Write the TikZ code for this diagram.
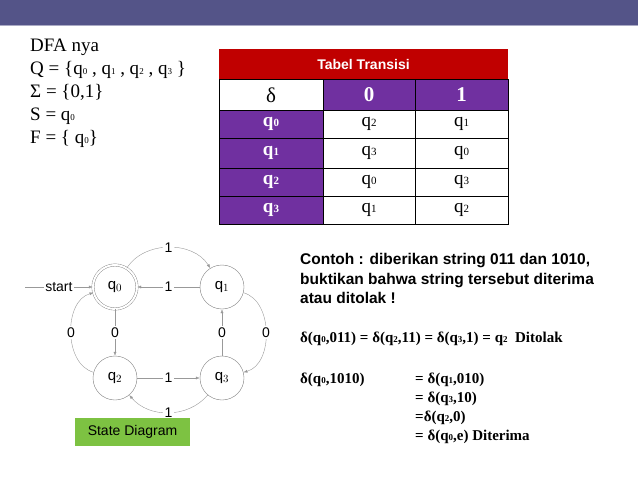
\documentclass[tikz,border=0pt]{standalone}
\usepackage{fontspec}
\setmainfont{Liberation Serif}
\setsansfont{Liberation Sans}
\usetikzlibrary{arrows.meta}
\definecolor{barblue}{HTML}{545488}
\definecolor{tabred}{HTML}{C00000}
\definecolor{tabpurple}{HTML}{7030A0}
\definecolor{boxgreen}{HTML}{7DC242}
\newcommand{\qs}[1]{q{\fontsize{9}{9}\selectfont #1}}
\newcommand{\qt}[1]{q{\fontsize{11}{11}\selectfont #1}}
\begin{document}
\begin{tikzpicture}[x=1pt,y=-1pt,>={Latex[length=4pt,width=3pt]},
  state/.style={circle,draw=gray,minimum size=44pt,inner sep=0pt,font=\sffamily\fontsize{15}{15}\selectfont},
  edge/.style={->,draw=gray!80,thin},
  elab/.style={fill=white,inner sep=1.5pt,font=\sffamily\fontsize{14}{14}\selectfont},
  cell/.style={draw=black,line width=0.6pt},
  hdtext/.style={text=white,font=\bfseries\fontsize{21}{21}\selectfont},
  eqtext/.style={anchor=base west,inner sep=0pt,font=\bfseries\fontsize{15}{15}\selectfont}]
\useasboundingbox (0,0) rectangle (638,479);

% Title bar
\fill [barblue] (0,0) rectangle (638,25);
\fill [barblue!50] (0,25) rectangle (638,26);

% DFA definition
\foreach \y/\txt in {51/{DFA nya},74/{Q = \{\qs0 , \qs1 , \qs2 , \qs3 \}},
  97/{Σ = \{0,1\}},120/{S = \qs0},143/{F = \{ \qs0\}}} {
  \node [anchor=base west,inner sep=0pt,font=\fontsize{19}{19}\selectfont] at (30,\y) {\txt};
}

% Transition table
\fill [tabred] (219,49) rectangle (508,79);
\node [text=white,font=\sffamily\bfseries\fontsize{14}{14}\selectfont] (title) at (363.5,64) {Tabel Transisi};
\fill [tabpurple] (323,79) rectangle (508,110);
\fill [tabpurple] (219,110) rectangle (323,224);
\foreach \ya/\yb in {79/110,110/138,138/168,168/196,196/224} {
  \draw [cell] (219,\ya) rectangle (323,\yb);
  \draw [cell] (323,\ya) rectangle (415,\yb);
  \draw [cell] (415,\ya) rectangle (508,\yb);
}
\node [font=\fontsize{21}{21}\selectfont] (delta) at (271,95) {δ};
\node [hdtext] (h0) at (369,95) {0};
\node [hdtext] (h1) at (461.5,95) {1};
\foreach \y/\s/\a/\b in {124/0/2/1,153/1/3/0,182/2/0/3,210/3/1/2} {
  \node [text=white,font=\bfseries\fontsize{19}{19}\selectfont] at (271,\y) {\qt\s};
  \node [font=\fontsize{19}{19}\selectfont] at (369,\y) {\qt\a};
  \node [font=\fontsize{19}{19}\selectfont] at (461.5,\y) {\qt\b};
}

% State diagram
\node [state,double,double distance=2pt] (q0) at (115,287) {q$_0$};
\node [state] (q1) at (222,287) {q$_1$};
\node [state] (q2) at (115,378) {q$_2$};
\node [state] (q3) at (222,378) {q$_3$};
\coordinate (s) at (25,287);
\draw [edge] (s) -- node [elab] {start} (q0);
\draw [edge] (q0) to [bend left=58] node [elab] {1} (q1);
\draw [edge] (q1) -- node [elab] {1} (q0);
\draw [edge] (q0) -- node [elab] {0} (q2);
\draw [edge] (q3) -- node [elab] {0} (q1);
\draw [edge] (q2) -- node [elab] {1} (q3);
\draw [edge] (q3) to [bend left=50] node [elab] {1} (q2);
\draw [edge] (q2) to [bend left=75] node [elab] {0} (q0);
\draw [edge] (q1) to [bend left=75] node [elab] {0} (q3);
\node [fill=boxgreen,minimum width=115pt,minimum height=28pt,inner sep=0pt,
  font=\sffamily\fontsize{14}{14}\selectfont] (cap) at (132.5,432) {State Diagram};

% Example text
\foreach \y/\txt in {264/{Contoh : diberikan string 011 dan 1010,},284/{buktikan bahwa string tersebut diterima},303/{atau ditolak !}} {
  \node [anchor=base west,inner sep=0pt,font=\sffamily\bfseries\fontsize{15.5}{15.5}\selectfont] at (300,\y) {\txt};
}
\node [eqtext] (e1) at (300,342) {δ(\qs0,011) = δ(\qs2,11) = δ(\qs3,1) = \qs2\ \ Ditolak};
\node [eqtext] (e2) at (300,383) {δ(\qs0,1010)};
\foreach \y/\txt in {383/{= δ(\qs1,010)},402/{= δ(\qs3,10)},421/{=δ(\qs2,0)},440/{= δ(\qs0,e) Diterima}} {
  \node [eqtext] at (415,\y) {\txt};
}
\end{tikzpicture}
\end{document}
